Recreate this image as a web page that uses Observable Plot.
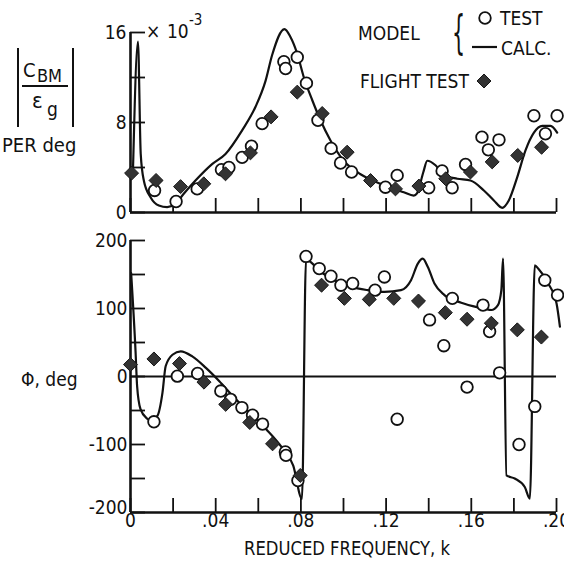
<!DOCTYPE html>
<html><head><meta charset="utf-8">
<script src="https://cdn.jsdelivr.net/npm/d3@7"></script>
<script src="https://cdn.jsdelivr.net/npm/@observablehq/plot@0.6"></script>
<style>
html,body{margin:0;padding:0;background:#fff}
#wrap{position:relative;width:564px;height:562px;overflow:hidden}
#wrap svg{position:absolute;left:0}
</style></head><body><div id="wrap"></div>
<script>
const FONT = '"DejaVu Sans Condensed","Liberation Sans Narrow","DejaVu Sans",sans-serif';

// ---- tick values ----
const kTicks = [0, 0.02, 0.04, 0.06, 0.08, 0.10, 0.12, 0.14, 0.16, 0.18, 0.20];
const kLabels = [0, 0.04, 0.08, 0.12, 0.16, 0.20];
const magTicks = [0, 4, 8, 12, 16];
const magLabels = [0, 8, 16];
const phaseTicks = [-200, -150, -100, -50, 0, 50, 100, 150, 200];
const phaseLabelsUpper = [-100, 0, 100, 200];
const phaseLabelsLowest = [-200];

// ---- magnitude (x 10^-3) ----
const magCalcK = [0.0012,0.0035,0.0048,0.0063,0.0094,0.0133,0.0172,0.0211,0.025,0.0305,0.0383,0.0446,0.0524,0.0587,0.0634,0.0665,0.0723,0.0751,0.0783,0.0814,0.0853,0.0892,0.0939,0.1001,0.108,0.1174,0.1283,0.1330,0.1345,0.1375,0.1393,0.1432,0.1471,0.1534,0.1596,0.1659,0.1706,0.1745,0.1776,0.1815,0.1854,0.1894,0.1933,0.1972,0.2003];
const magCalcV = [4,15.2,5.2,2.8,1.36,0.62,0.47,0.77,1.66,2.84,4.3,5.2,7.3,9.4,11.7,14.0,16.3,15.6,14.1,12.0,10.0,8.2,6.4,4.6,3.4,2.55,1.8,1.5,1.7,3.6,4.6,4.2,3.3,3.0,2.84,1.96,1.07,0.42,1.07,3.1,5.5,7.1,7.7,7.7,7.1];

const magTestK = [0.0113,0.0214,0.0313,0.0427,0.0462,0.0524,0.0568,0.0618,0.072,0.0728,0.0783,0.0826,0.088,0.0942,0.0986,0.1038,0.1197,0.1252,0.14,0.1463,0.151,0.1573,0.165,0.168,0.173,0.1894,0.1948,0.2003];
const magTestV = [1.96,0.98,2.1,3.8,4.0,4.9,5.9,7.9,13.4,12.8,13.8,11.5,8.2,5.7,4.4,3.6,2.25,3.3,2.2,3.7,2.2,4.27,6.7,5.57,6.46,8.6,7.0,8.6];

const magFlightK = [0.0005,0.012,0.0235,0.0344,0.0446,0.0563,0.066,0.0783,0.09,0.1017,0.1127,0.1244,0.1354,0.148,0.1596,0.1698,0.1818,0.193];
const magFlightV = [3.5,2.85,2.3,2.55,3.44,5.3,8.5,10.7,8.8,5.36,2.84,2.1,2.35,3.0,3.6,4.5,5.07,5.8];

// ---- phase (deg) ----
const phCalcK = [0.0003,0.0024,0.0031,0.0047,0.0078,0.0094,0.0126,0.015,0.0165,0.0197,0.0236,0.029,0.0354,0.0417,0.048,0.0558,0.0637,0.0716,0.0764,0.0805,0.0824,0.0894,0.0957,0.1035,0.1114,0.1192,0.127,0.1317,0.1349,0.1372,0.1396,0.1427,0.1474,0.1553,0.1631,0.1694,0.1725,0.1741,0.1749,0.1765,0.1804,0.1851,0.1875,0.1898,0.1914,0.1961,0.2,0.2016];
const phCalcV = [152,35,-14,-48,-62,-65,-58,-24,15,32,37,29.6,12.7,-6.9,-28.7,-53,-77.4,-106.6,-131,-180,172,153.7,141.6,131.8,127,124.5,127,141.6,166,173.3,161,136.8,119.7,108.5,101.7,97.8,105,127,173.3,-145.5,-150,-162.5,-179.6,163.5,158.7,136.8,107.6,73.4];

const phTestK = [0.011,0.022,0.0315,0.0424,0.047,0.0523,0.0573,0.062,0.0727,0.073,0.0786,0.0824,0.0886,0.0941,0.0988,0.1043,0.1148,0.1192,0.1252,0.1404,0.1471,0.1511,0.158,0.1655,0.1686,0.1733,0.1824,0.1898,0.1945,0.2005];
const phTestV = [-66.6,0.5,4.4,-21.4,-33.6,-45.7,-57,-70,-111,-116,-153,176.6,158.7,147.4,134.3,136.8,127,146.4,-62.8,83.2,45.3,114.9,-15.6,105,66.1,5.4,-100,-44,141.6,119.7];

const phFlightK = [0.0,0.011,0.023,0.0345,0.0447,0.056,0.0667,0.0797,0.0897,0.1004,0.1121,0.1236,0.1352,0.1478,0.158,0.1694,0.1816,0.1929];
const phFlightV = [17.5,25.8,19,-8.3,-41,-67.6,-99,-145.5,134.3,114.9,113.4,114.9,111,93.9,84.2,78.4,68.6,58];

const rows = (ks, vs) => ks.map((k, i) => ({k, v: vs[i]}));

const kFmt = d => d === 0 ? "0" : d3.format(".2f")(d).replace(/^0/, "");
const styleBase = {fontFamily: FONT, fontSize: "19px", color: "#111", background: "none", overflow: "visible"};

const wrap = document.getElementById("wrap");

const dataMarks = (calc, test, flight) => [
  Plot.line(calc, {x: "k", y: "v", curve: "monotone-x", stroke: "#111", strokeWidth: 2.2}),
  Plot.dot(test, {x: "k", y: "v", r: 5.8, fill: "white", stroke: "#111", strokeWidth: 1.8}),
  Plot.dot(flight, {x: "k", y: "v", symbol: "diamond2", r: 6.3, fill: "#333", stroke: "#161616", strokeWidth: 1})
];

const topPlot = Plot.plot({
  width: 564, height: 220,
  marginLeft: 130, marginRight: 8, marginTop: 32, marginBottom: 8,
  style: styleBase,
  x: {domain: [0, 0.2]},
  y: {domain: [0, 16]},
  marks: [
    Plot.ruleX([0], {strokeWidth: 2.6}),
    Plot.ruleY([0], {strokeWidth: 2.6}),
    Plot.axisX({ticks: kTicks, tickSize: -14, tickFormat: () => "", strokeWidth: 1.8, label: null}),
    Plot.axisY({ticks: magTicks, tickSize: -15, tickFormat: () => "", strokeWidth: 1.8, label: null}),
    Plot.axisY({ticks: magLabels, tickSize: 0, tickPadding: 4, tickFormat: d => String(d), label: null}),
    ...dataMarks(rows(magCalcK, magCalcV), rows(magTestK, magTestV), rows(magFlightK, magFlightV))
  ]
});
topPlot.style.top = "0px";
wrap.appendChild(topPlot);

const botPlot = Plot.plot({
  width: 564, height: 342,
  marginLeft: 130, marginRight: 8, marginTop: 20, marginBottom: 50,
  style: styleBase,
  x: {domain: [0, 0.2]},
  y: {domain: [-200, 200]},
  marks: [
    Plot.ruleX([0], {strokeWidth: 2.6}),
    Plot.ruleY([-200], {strokeWidth: 2.6}),
    Plot.ruleY([0], {strokeWidth: 2.2}),
    Plot.axisX({ticks: kTicks, tickSize: -14, tickFormat: () => "", strokeWidth: 1.8, label: null}),
    Plot.axisX({ticks: kLabels, tickSize: 0, tickPadding: 1, tickFormat: kFmt, label: null}),
    Plot.axisY({ticks: phaseTicks, tickSize: -15, tickFormat: () => "", strokeWidth: 1.8, label: null}),
    Plot.axisY({ticks: phaseLabelsUpper, tickSize: 0, tickPadding: 3, tickFormat: d => String(d), label: null}),
    Plot.axisY({ticks: phaseLabelsLowest, tickSize: 0, tickPadding: 3, dy: -5, tickFormat: d => String(d), label: null}),
    ...dataMarks(rows(phCalcK, phCalcV), rows(phTestK, phTestV), rows(phFlightK, phFlightV))
  ]
});
botPlot.style.top = "220px";
wrap.appendChild(botPlot);

// ---- text overlay (titles, labels, legend) ----
const ov = d3.select(wrap).append("svg")
  .attr("width", 564).attr("height", 562)
  .style("top", "0px")
  .attr("font-family", FONT).attr("fill", "#111");

const txt = (s, x, y, size, extra = {}) => {
  const t = ov.append("text").attr("x", x).attr("y", y).attr("font-size", size).text(s);
  for (const [k, v] of Object.entries(extra)) t.attr(k, v);
  return t;
};

// |C_BM / eps_g|
ov.append("line").attr("x1", 18).attr("x2", 18).attr("y1", 48).attr("y2", 127).attr("stroke", "#111").attr("stroke-width", 2);
ov.append("line").attr("x1", 73).attr("x2", 73).attr("y1", 48).attr("y2", 127).attr("stroke", "#111").attr("stroke-width", 2);
ov.append("line").attr("x1", 22).attr("x2", 68).attr("y1", 86).attr("y2", 86).attr("stroke", "#111").attr("stroke-width", 2);
txt("C", 23, 77, 20);
txt("BM", 37, 82, 18);
txt("ε", 32, 108, 22);
txt("g", 47, 116, 19);
txt("PER deg", 2, 152, 20);
txt("Φ, deg", 21, 386, 19);

// x 10^-3
txt("×", 146, 38, 19);
txt("10", 167, 38, 19);
txt("-3", 189, 25, 15);

// legend
txt("MODEL", 358, 40, 19);
ov.append("text").attr("font-size", 46).attr("transform", "translate(452,48) scale(0.5,1)").text("{");
ov.append("circle").attr("cx", 485).attr("cy", 18).attr("r", 5.8).attr("fill", "white").attr("stroke", "#111").attr("stroke-width", 1.8);
txt("TEST", 500, 25, 19);
ov.append("line").attr("x1", 472).attr("x2", 497).attr("y1", 47).attr("y2", 47).attr("stroke", "#111").attr("stroke-width", 2.2);
txt("CALC.", 501, 55, 19);
txt("FLIGHT TEST", 360, 88, 19);
ov.append("path").attr("d", d3.symbol(d3.symbolDiamond2, Math.PI * 6.3 * 6.3)()).attr("transform", "translate(484,81)").attr("fill", "#333").attr("stroke", "#161616");

// x-axis title
txt("REDUCED FREQUENCY, k", 347, 555, 20, {"text-anchor": "middle", "textLength": 206, "lengthAdjust": "spacingAndGlyphs"});
</script>
</body></html>
